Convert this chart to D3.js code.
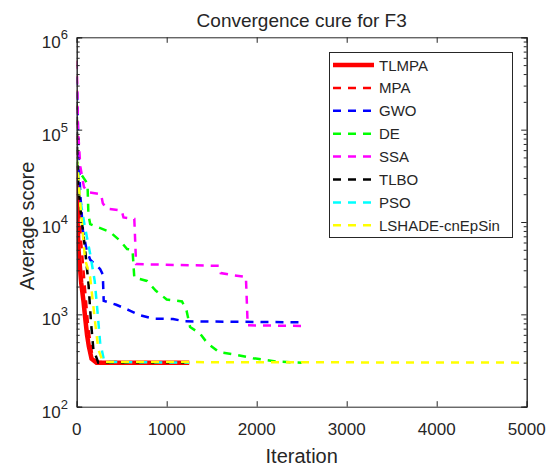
<!DOCTYPE html>
<html>
<head>
<meta charset="utf-8">
<script src="https://cdn.jsdelivr.net/npm/d3@7"></script>
<style>
  body { margin: 0; background: #fff; }
  text { font-family: "Liberation Sans", Arial, sans-serif; fill: #262626; }
</style>
</head>
<body>
<div id="chart"></div>
<script>
const width = 557, height = 467;

// Series: [iteration, average score]
const tlmpa = [[0,40000],[5,20000],[10,10000],[20,5000],[50,2200],[75,1400],[95,900],[115,600],[135,450],[165,330],[220,300],[1250,300]];
const mpa = [[0,560000],[3,200000],[8,60000],[20,20000],[50,6000],[90,2000],[130,700],[170,380],[230,305],[1250,300]];
const gwo = [[0,370000],[10,150000],[20,60000],[40,20000],[70,8000],[110,5000],[150,3900],[260,3100],[290,2700],[300,1400],[440,1270],[590,1100],[700,980],[850,900],[1070,890],[1200,840],[2500,820]];
const de = [[0,45000],[30,35000],[120,26000],[130,12000],[150,9500],[220,8900],[370,7800],[480,6300],[560,5100],[620,5000],[640,2500],[780,2300],[880,1800],[1000,1450],[1170,1380],[1220,1100],[1260,730],[1370,620],[1450,490],[1580,390],[1740,370],[1960,335],[2220,308],[2500,300]];
const ssa = [[0,550000],[5,300000],[15,100000],[40,40000],[80,24000],[120,21000],[270,20000],[290,16000],[330,14000],[500,13300],[520,11200],[640,10800],[660,3500],[1580,3350],[1600,2800],[1740,2650],[1880,2550],[1900,760],[2500,750]];
const tlbo = [[0,200000],[5,60000],[15,26000],[55,10500],[90,5400],[130,2200],[160,800],[185,420],[240,300],[1250,300]];
const pso = [[0,50000],[15,36000],[37,18000],[90,9000],[150,4500],[200,2300],[230,1100],[260,500],[300,330],[350,305],[1250,300]];
const lshade = [[0,50000],[10,40000],[37,17000],[92,4000],[150,2500],[200,900],[240,420],[290,305],[5000,300]];

const names = ["TLMPA", "MPA", "GWO", "DE", "SSA", "TLBO", "PSO", "LSHADE-cnEpSin"];
const colors = ["#ff0000", "#ff0000", "#0000ff", "#00ff00", "#ff00ff", "#000000", "#00ffff", "#ffff00"];
const seriesData = [tlmpa, mpa, gwo, de, ssa, tlbo, pso, lshade];
const xTicks = [0, 1000, 2000, 3000, 4000, 5000];
const yTicks = [1e2, 1e3, 1e4, 1e5, 1e6];

const pl = 76.7, pr = 526.7, pt = 37.3, pb = 406.7;
const dash = "8,7";

const svg = d3.select("#chart").append("svg")
    .attr("width", width)
    .attr("height", height);

const x = d3.scaleLinear().domain([0, 5000]).range([pl, pr]);
const y = d3.scaleLog().domain([1e2, 1e6]).range([pb, pt]);

svg.append("defs").append("clipPath").attr("id", "clip")
  .append("rect")
    .attr("x", pl).attr("y", pt)
    .attr("width", pr - pl).attr("height", pb - pt);

// curves
const line = d3.line().x(d => x(d[0])).y(d => y(d[1]));
const plot = svg.append("g").attr("clip-path", "url(#clip)");
seriesData.forEach((s, i) => {
  plot.append("path")
      .datum(s)
      .attr("d", line)
      .attr("fill", "none")
      .attr("stroke", colors[i])
      .attr("stroke-width", i === 0 ? 4.5 : 2.5)
      .attr("stroke-dasharray", i === 0 ? null : dash);
});

// axes (box on, ticks inside)
const axisColor = "#262626";
const minorY = [];
for (let e = 2; e < 6; e++) for (let m = 2; m <= 9; m++) minorY.push(m * Math.pow(10, e));

svg.append("g").attr("transform", `translate(0,${pb})`)
    .call(d3.axisBottom(x).tickValues(xTicks).tickSize(-5.5).tickFormat(""));
svg.append("g").attr("transform", `translate(0,${pt})`)
    .call(d3.axisTop(x).tickValues(xTicks).tickSize(-5.5).tickFormat(""));
svg.append("g").attr("transform", `translate(${pl},0)`)
    .call(d3.axisLeft(y).tickValues(yTicks).tickSize(-5.5).tickFormat(""));
svg.append("g").attr("transform", `translate(${pr},0)`)
    .call(d3.axisRight(y).tickValues(yTicks).tickSize(-5.5).tickFormat(""));
svg.append("g").attr("transform", `translate(${pl},0)`)
    .call(d3.axisLeft(y).tickValues(minorY).tickSize(-3).tickFormat(""));
svg.append("g").attr("transform", `translate(${pr},0)`)
    .call(d3.axisRight(y).tickValues(minorY).tickSize(-3).tickFormat(""));
svg.selectAll(".domain").attr("stroke", axisColor).attr("stroke-width", 1);
svg.selectAll(".tick line").attr("stroke", axisColor).attr("stroke-width", 1);

// tick labels
svg.selectAll(".xlab").data(xTicks).enter().append("text")
    .attr("x", d => x(d))
    .attr("y", 435)
    .attr("text-anchor", "middle")
    .style("font-size", "17px")
    .text(d => d);

const ylab = svg.selectAll(".ylab").data(yTicks).enter().append("text")
    .attr("x", 68)
    .attr("y", d => y(d) + 11)
    .attr("text-anchor", "end")
    .style("font-size", "17px");
ylab.append("tspan").text("10");
ylab.append("tspan").attr("dy", -9).style("font-size", "13px").text(d => Math.round(Math.log10(d)));

// titles
svg.append("text")
    .attr("x", (pl + pr) / 2).attr("y", 27)
    .attr("text-anchor", "middle")
    .style("font-size", "19px")
    .text("Convergence cure for F3");
svg.append("text")
    .attr("x", (pl + pr) / 2).attr("y", 463)
    .attr("text-anchor", "middle")
    .style("font-size", "20px")
    .text("Iteration");
svg.append("text")
    .attr("transform", `translate(34,${(pt + pb) / 2 + 4}) rotate(-90)`)
    .attr("text-anchor", "middle")
    .style("font-size", "20px")
    .text("Average score");

// legend
const lg = svg.append("g");
lg.append("rect")
    .attr("x", 329.5).attr("y", 52.5)
    .attr("width", 183).attr("height", 185)
    .attr("fill", "#fff")
    .attr("stroke", axisColor)
    .attr("stroke-width", 1);
names.forEach((n, i) => {
  const yy = 65 + i * 22.9;
  lg.append("line")
      .attr("x1", 333).attr("x2", 374)
      .attr("y1", yy).attr("y2", yy)
      .attr("stroke", colors[i])
      .attr("stroke-width", i === 0 ? 4.5 : 2.5)
      .attr("stroke-dasharray", i === 0 ? null : dash);
  lg.append("text")
      .attr("x", 379).attr("y", yy + 5.5)
      .style("font-size", "15px")
      .text(n);
});
</script>
</body>
</html>
